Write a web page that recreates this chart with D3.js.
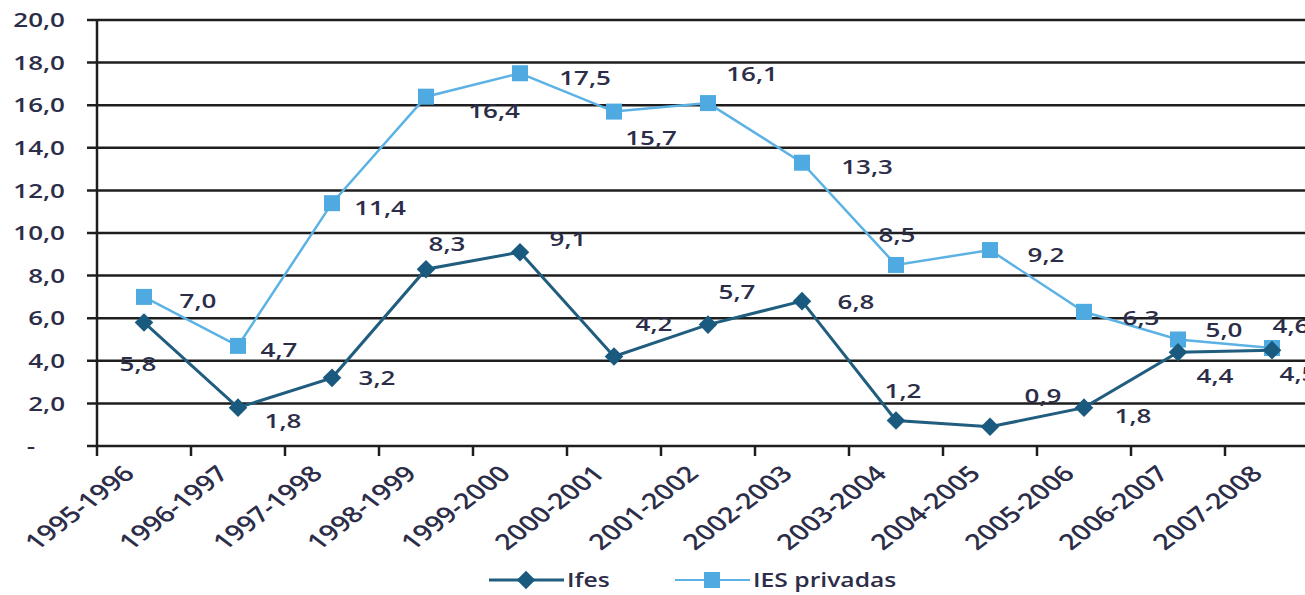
<html>
<head>
<script src="https://d3js.org/d3.v7.min.js"></script>
<style>
body { margin: 0; background: #fff; }
svg { display: block; }
text { font-family: 'Open Sans', 'Noto Sans', sans-serif; fill: #2c2d48; }
</style>
</head>
<body>
<svg width="1305" height="595"></svg>
<script>
// anos letivos (eixo x)
var periods = ["1995-1996", "1996-1997", "1997-1998", "1998-1999", "1999-2000", "2000-2001",
  "2001-2002", "2002-2003", "2003-2004", "2004-2005", "2005-2006", "2006-2007", "2007-2008"];

// series
var seriesNames = ["Ifes", "IES privadas"];
var ifes = [5.8, 1.8, 3.2, 8.3, 9.1, 4.2, 5.7, 6.8, 1.2, 0.9, 1.8, 4.4, 4.5];
var iesPrivadas = [7.0, 4.7, 11.4, 16.4, 17.5, 15.7, 16.1, 13.3, 8.5, 9.2, 6.3, 5.0, 4.6];

// y ticks
var yTicks = [0, 2, 4, 6, 8, 10, 12, 14, 16, 18, 20];

// where each data label sits relative to its point (layout only)
var ifesLabelOff = [[-6,41],[45,13],[45,0],[21,-25],[48,-13],[40,-33],[29,-33],[54,1],[7,-30],[53,-31],[49,8],[37,24],[26,24]];
var iesLabelOff = [[54,4],[41,4],[48,5],[68,14],[65,5],[37,26],[44,-29],[65,4],[1,-30],[56,5],[57,6],[46,-10],[19,-22]];

var svg = d3.select("svg");
var SX = 1.3; // the picture is stretched sideways, text too

var x = d3.scaleBand().domain(periods).range([97, 97 + 13 * 94]);
var y = d3.scaleLinear().domain([0, 20]).range([446, 20]);
var cx = function(d, i) { return x(periods[i]) + x.bandwidth() / 2; };

var fmt = function(v) { return v.toFixed(1).replace(".", ","); };

// grid lines + y ticks
svg.append("g").selectAll("line").data(yTicks).enter().append("line")
  .attr("x1", 87).attr("x2", 1305)
  .attr("y1", d => y(d)).attr("y2", d => y(d))
  .style("stroke", "#1e1e1e").style("stroke-width", 2.5);

// y axis line
svg.append("line").attr("x1", 97).attr("x2", 97).attr("y1", y(20) - 1).attr("y2", y(0) + 1)
  .style("stroke", "#1e1e1e").style("stroke-width", 2.5);

// x ticks on band edges
svg.append("g").selectAll("line").data(periods).enter().append("line")
  .attr("x1", d => x(d)).attr("x2", d => x(d))
  .attr("y1", y(0)).attr("y2", y(0) + 10)
  .style("stroke", "#1e1e1e").style("stroke-width", 2.5);

// y labels
svg.append("g").selectAll("text").data(yTicks).enter().append("text")
  .attr("transform", d => "translate(" + (d == 0 ? 35 : 65) + "," + y(d) + ") scale(" + SX + ",1)")
  .attr("dy", "0.36em").attr("text-anchor", "end")
  .style("font-size", "20px").style("font-weight", 600)
  .text(d => d == 0 ? "-" : fmt(d));

// x labels
svg.append("g").selectAll("text").data(periods).enter().append("text")
  .attr("transform", (d, i) => "translate(" + (cx(d, i) - 8) + "," + 475 + ") scale(" + SX + ",1) rotate(-45)")
  .attr("text-anchor", "end")
  .style("font-size", "22px").style("font-weight", 600)
  .text(d => d);

var line = d3.line().x((d, i) => cx(d, i)).y(d => y(d));

// IES privadas
svg.append("path").datum(iesPrivadas).attr("d", line)
  .style("fill", "none").style("stroke", "#5cb2e4").style("stroke-width", 2.5);
// Ifes
svg.append("path").datum(ifes).attr("d", line)
  .style("fill", "none").style("stroke", "#205d7e").style("stroke-width", 3);

svg.append("g").selectAll("rect").data(iesPrivadas).enter().append("rect")
  .attr("x", (d, i) => cx(d, i) - 8).attr("y", d => y(d) - 8)
  .attr("width", 16).attr("height", 16).style("fill", "#4eaae0");

var diamond = d3.symbol().type(d3.symbolDiamond2).size(220);
svg.append("g").selectAll("path").data(ifes).enter().append("path")
  .attr("d", diamond)
  .attr("transform", (d, i) => "translate(" + cx(d, i) + "," + y(d) + ")")
  .style("fill", "#1a5a7e");

// data labels
function labels(values, offs) {
  svg.append("g").selectAll("text").data(values).enter().append("text")
    .attr("transform", (d, i) => "translate(" + (cx(d, i) + offs[i][0]) + "," + (y(d) + offs[i][1]) + ") scale(" + SX + ",1)")
    .attr("dy", "0.36em").attr("text-anchor", "middle")
    .style("font-size", "20px").style("font-weight", 600)
    .text(d => fmt(d));
}
labels(ifes, ifesLabelOff);
labels(iesPrivadas, iesLabelOff);

// legend
var lg = svg.append("g");
var legendX = [489, 675];
var legendColor = ["#205d7e", "#5cb2e4"];
seriesNames.forEach(function(name, k) {
  var x0 = legendX[k];
  lg.append("line").attr("x1", x0).attr("x2", x0 + 75).attr("y1", 580).attr("y2", 580)
    .style("stroke", legendColor[k]).style("stroke-width", k == 0 ? 3 : 2);
  if (k == 0) {
    lg.append("path").attr("d", diamond).attr("transform", "translate(" + (x0 + 37) + ",580)").style("fill", "#1a5a7e");
  } else {
    lg.append("rect").attr("x", x0 + 29).attr("y", 572).attr("width", 16).attr("height", 16).style("fill", "#4eaae0");
  }
  lg.append("text").attr("transform", "translate(" + (x0 + 78) + ",580) scale(" + SX + ",1)")
    .attr("dy", "0.36em").style("font-size", "19px").style("font-weight", 600)
    .text(name);
});
</script>
</body>
</html>
